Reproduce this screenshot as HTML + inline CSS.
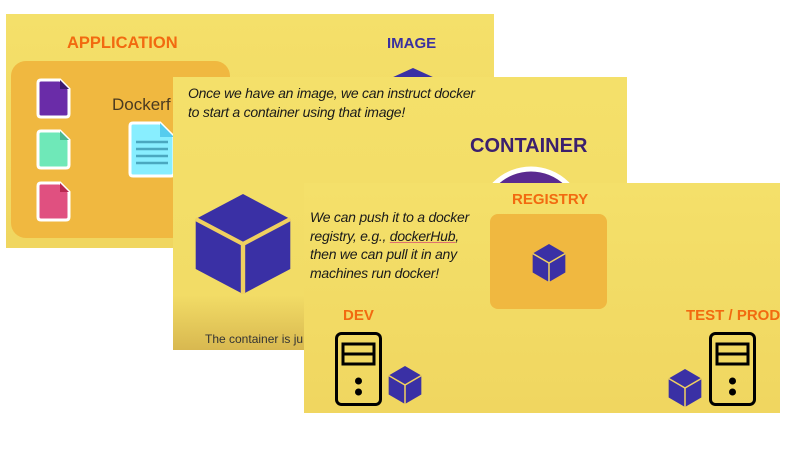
<!DOCTYPE html>
<html><head><meta charset="utf-8"><style>
body{margin:0;width:800px;height:450px;background:#fff;position:relative;overflow:hidden;font-family:"Liberation Sans",sans-serif}
.s{position:absolute;background:linear-gradient(#f4e06a,#f0d660)}
.a{position:absolute;white-space:nowrap}
.h{font-weight:bold;color:#f26a10;font-size:15px}
.it{font-style:italic;font-size:14px;color:#1a1a1a;line-height:18.5px;letter-spacing:-0.25px}
svg{position:absolute;left:0;top:0}
</style></head><body>
<div class="s" style="left:6px;top:14px;width:488px;height:234px"></div>
<div class="a" style="left:11px;top:61px;width:219px;height:177px;background:#f0b840;border-radius:15px"></div>
<div class="a h" style="left:67px;top:34px;font-size:16.5px">APPLICATION</div>
<div class="a h" style="left:387px;top:35px;color:#3a30a0">IMAGE</div>
<div class="a" style="left:112px;top:95px;font-size:17px;color:#4a3a20">Dockerf</div>

<svg width="800" height="450">
<defs>
<g id="cube"><polygon points="0,-50 43,-25 43,25 0,50 -43,25 -43,-25" fill="#3a30a5"/><polyline points="-43,-25 0,0 43,-25" fill="none" stroke="#f0d060" stroke-width="4"/><line x1="0" y1="0" x2="0" y2="50" stroke="#f0d060" stroke-width="4"/></g>
<g id="srv" fill="none" stroke="#000" stroke-width="3"><rect x="1.5" y="1.5" width="44" height="71" rx="5"/><rect x="8" y="12" width="31" height="10"/><rect x="8" y="22" width="31" height="10"/><circle cx="23.5" cy="49" r="2" fill="#000"/><circle cx="23.5" cy="60" r="2" fill="#000"/></g>
</defs>
<g transform="translate(38,80)"><path d="M0,3 Q0,0 3,0 H22 L31,9 V34 Q31,37 28,37 H3 Q0,37 0,34Z" fill="#6a2ca8" stroke="#fff" stroke-width="3"/><path d="M22,0 L31,9 H22Z" fill="#3d1a70"/></g>
<g transform="translate(38,131)"><path d="M0,3 Q0,0 3,0 H22 L31,9 V34 Q31,37 28,37 H3 Q0,37 0,34Z" fill="#6fe8b8" stroke="#fff" stroke-width="3"/><path d="M22,0 L31,9 H22Z" fill="#4ab890"/></g>
<g transform="translate(38,183)"><path d="M0,3 Q0,0 3,0 H22 L31,9 V34 Q31,37 28,37 H3 Q0,37 0,34Z" fill="#e05080" stroke="#fff" stroke-width="3"/><path d="M22,0 L31,9 H22Z" fill="#b82850"/></g>
<g transform="translate(130,123)"><path d="M0,3 Q0,0 3,0 H30 L44,14 V50 Q44,53 41,53 H3 Q0,53 0,50Z" fill="#88eeff" stroke="#fff" stroke-width="3"/><path d="M30,0 L44,14 H30Z" fill="#55ccee"/><g stroke="#4aa8c0" stroke-width="2.5"><line x1="6" y1="19" x2="38" y2="19"/><line x1="6" y1="26" x2="38" y2="26"/><line x1="6" y1="33" x2="38" y2="33"/><line x1="6" y1="40" x2="38" y2="40"/></g></g>
<polygon points="413,68 435,78 391,78" fill="#3a30a5"/>
</svg>

<div class="s" style="left:173px;top:77px;width:454px;height:273px;background:linear-gradient(#f4e06a 0,#f2dc66 80%,#d8b850 100%)"></div>
<div class="a it" style="left:188px;top:84px">Once we have an image, we can instruct docker<br>to start a container using that image!</div>
<div class="a" style="left:470px;top:135px;font-weight:bold;font-size:20px;color:#3b1f6e">CONTAINER</div>
<div class="a" style="left:205px;top:332px;font-size:12px;color:#333">The container is ju</div>
<svg width="800" height="450">
<circle cx="531" cy="220" r="51" fill="#5a2a90" stroke="#fff" stroke-width="5"/>
<use href="#cube" transform="translate(243,244) scale(1.1,1.0)"/>
</svg>

<div class="s" style="left:304px;top:183px;width:476px;height:230px"></div>
<div class="a it" style="left:310px;top:208px">We can push it to a docker<br>registry, e.g., <u style="text-decoration-color:#e07070">dockerHub</u>,<br>then we can pull it in any<br>machines run docker!</div>
<div class="a h" style="left:512px;top:191px">REGISTRY</div>
<div class="a" style="left:490px;top:214px;width:117px;height:95px;background:#f0b840;border-radius:8px"></div>
<div class="a h" style="left:343px;top:307px">DEV</div>
<div class="a h" style="left:686px;top:307px">TEST / PROD</div>
<svg width="800" height="450">
<use href="#cube" transform="translate(549,263) scale(0.38)"/>
<use href="#cube" transform="translate(405,385) scale(0.38)"/>
<use href="#cube" transform="translate(685,388) scale(0.38)"/>
<use href="#srv" transform="translate(335,332)"/>
<use href="#srv" transform="translate(709,332)"/>
</svg>
</body></html>
